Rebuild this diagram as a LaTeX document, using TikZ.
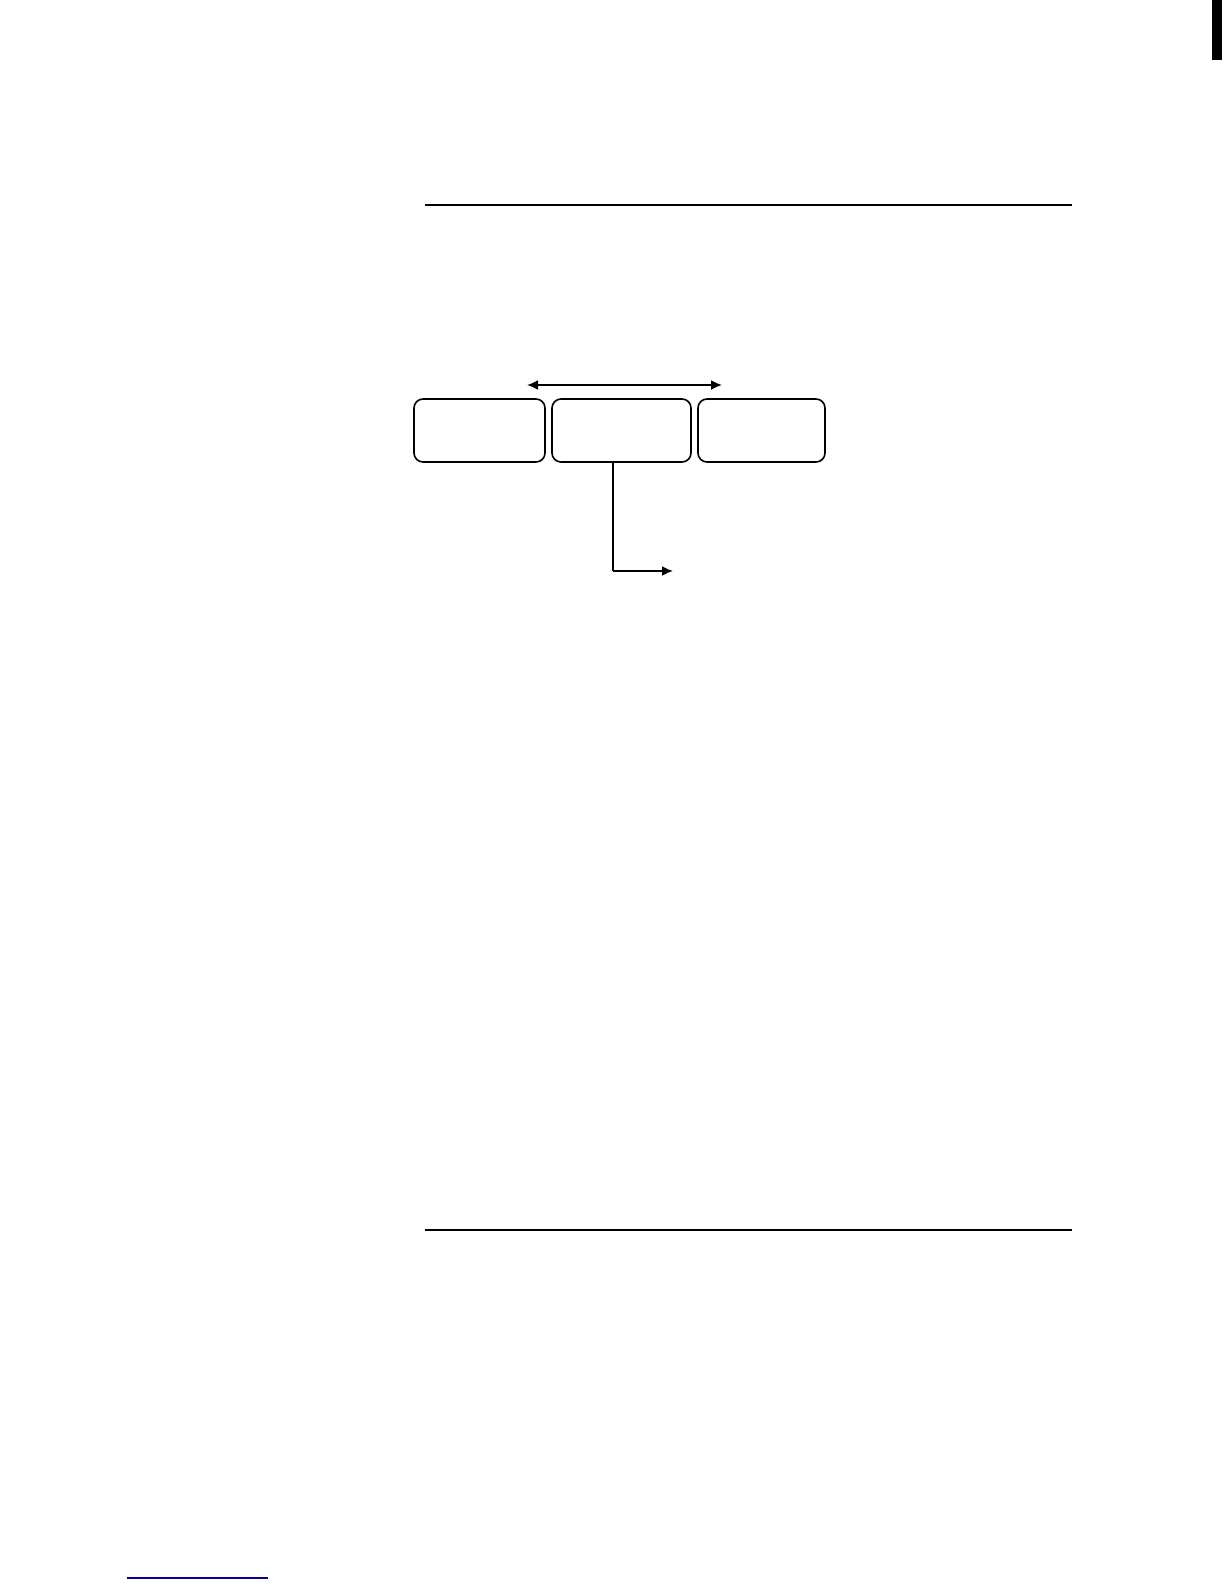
\documentclass[tikz,border=0pt]{standalone}
\usepackage{tikz}
\usetikzlibrary{arrows.meta}

\begin{document}
\begin{tikzpicture}[x=1pt, y=-1pt]

    % page frame, one unit per pixel of the page
    \useasboundingbox (0,0) rectangle (1224,1584);

    % Define the look of the boxes
    \tikzset{
        stagebox/.style={draw=black, line width=1.6pt, rounded corners=9pt, fill=white, inner sep=0pt},
        flow/.style={draw=black, line width=1.8pt, -{Latex[length=11pt, width=10pt]}}
    }

    % Draw the rules at the top and the bottom of the page
    \draw[line width=1.2pt] (425,205) -- (1072,205);
    \draw[line width=1.2pt] (425,1230) -- (1072,1230);
    \fill[black] (1212,0) rectangle (1222,60);
    \draw[line width=1.6pt, blue!60!black] (127,1578) -- (268,1578);

    % Draw the three boxes in a row
    \node[stagebox, minimum width=131pt, minimum height=63pt] (first) at (479.5,430.5) {};
    \node[stagebox, minimum width=139pt, minimum height=63pt] (middle) at (621.5,430.5) {};
    \node[stagebox, minimum width=127pt, minimum height=63pt] (last) at (761.5,430.5) {};

    % Arrows between and out of the boxes
    \coordinate (leftend) at (527,385);
    \coordinate (rightend) at (722,385);
    \coordinate (bend) at (613,571);
    \coordinate (outlet) at (673,571);
    \draw[flow, {Latex[length=11pt, width=10pt]}-{Latex[length=11pt, width=10pt]}] (leftend) -- (rightend);
    \draw[line width=1.8pt] (middle.south -| bend) -- (bend);
    \draw[flow] (bend) -- (outlet);

\end{tikzpicture}
\end{document}
